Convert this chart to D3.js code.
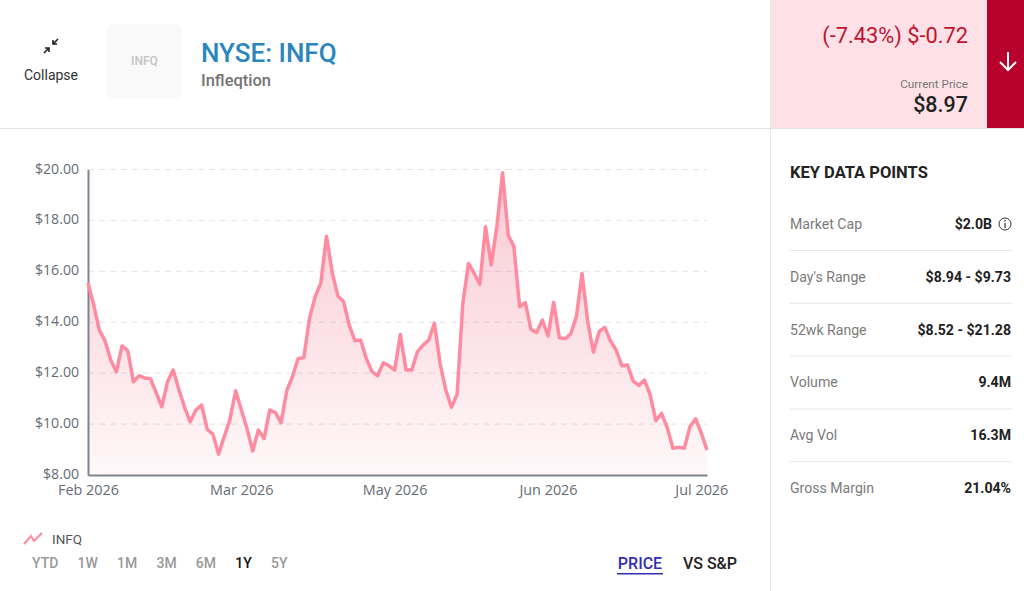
<!DOCTYPE html>
<html>
  <head>
    <meta charset="utf-8">
    <title>NYSE: INFQ</title>
    <script src="https://d3js.org/d3.v7.min.js"></script>
    <style>
      html, body { margin: 0; padding: 0; background: #fff; overflow: hidden; }
      text { font-family: Roboto, sans-serif; }
      .tick text { font-family: "Open Sans", sans-serif; }
    </style>
  </head>
  <body>
    <div id="chart"></div>
  </body>
  <script>
  var prices = [
    15.55, 14.68, 13.69, 13.27, 12.52, 12.06, 13.07, 12.88, 11.66, 11.90,
    11.81, 11.78, 11.23, 10.68, 11.66, 12.12, 11.36, 10.66, 10.09, 10.55,
    10.75, 9.79, 9.60, 8.82, 9.51, 10.19, 11.31, 10.55, 9.83, 8.94,
    9.77, 9.43, 10.55, 10.45, 10.05, 11.31, 11.86, 12.58, 12.61, 14.15,
    15.00, 15.55, 17.38, 15.95, 15.03, 14.81, 13.89, 13.27, 13.30, 12.58,
    12.06, 11.90, 12.41, 12.29, 12.12, 13.52, 12.12, 12.12, 12.84, 13.10,
    13.30, 13.96, 12.38, 11.34, 10.66, 11.17, 14.74, 16.31, 15.92, 15.49,
    17.75, 16.25, 17.75, 19.87, 17.42, 16.97, 14.61, 14.77, 13.72, 13.60,
    14.09, 13.46, 14.78, 13.39, 13.35, 13.54, 14.22, 15.92, 14.02, 12.82,
    13.63, 13.80, 13.27, 12.91, 12.29, 12.32, 11.69, 11.52, 11.73, 11.14,
    10.13, 10.42, 9.86, 9.05, 9.09, 9.05, 9.90, 10.21, 9.64, 8.98
  ];
  var priceTicks = [8, 10, 12, 14, 16, 18, 20];
  var dateTickIndex = [0, 27, 54, 81, 108];
  var dateTickLabels = ["Feb 2026", "Mar 2026", "May 2026", "Jun 2026", "Jul 2026"];
  var rangeButtons = ["YTD", "1W", "1M", "3M", "6M", "1Y", "5Y"];
  var activeRange = "1Y";
  var keyLabels = ["Market Cap", "Day's Range", "52wk Range", "Volume", "Avg Vol", "Gross Margin"];
  var keyValues = ["$2.0B", "$8.94 - $9.73", "$8.52 - $21.28", "9.4M", "16.3M", "21.04%"];

  var svg = d3.select("#chart").append("svg")
      .attr("width", 1024)
      .attr("height", 591)
      .style("display", "block");

  var defs = svg.append("defs");
  var grad = defs.append("linearGradient")
      .attr("id", "areaFill")
      .attr("x1", 0).attr("y1", 0).attr("x2", 0).attr("y2", 1);
  grad.append("stop").attr("offset", "0%").attr("stop-color", "#ee6a85").attr("stop-opacity", 0.36);
  grad.append("stop").attr("offset", "100%").attr("stop-color", "#ee6a85").attr("stop-opacity", 0.05);

  // header
  svg.append("rect").attr("x", 771).attr("y", 0).attr("width", 216).attr("height", 128).attr("fill", "#fee1e6");
  svg.append("rect").attr("x", 987).attr("y", 0).attr("width", 37).attr("height", 128).attr("fill", "#b7012c");
  svg.append("line").attr("x1", 0).attr("x2", 1024).attr("y1", 128.5).attr("y2", 128.5).attr("stroke", "#e2e2e2");
  svg.append("line").attr("x1", 770.5).attr("x2", 770.5).attr("y1", 0).attr("y2", 591).attr("stroke", "#e6e6e6");

  // collapse icon
  svg.append("path")
      .attr("d", "M58 39 L53 44 M53 40 L53 44 L57 44 M44 53 L49 48 M45 48 L49 48 L49 52")
      .attr("fill", "none").attr("stroke", "#222").attr("stroke-width", 1.6);
  svg.append("text").attr("x", 51).attr("y", 80).attr("text-anchor", "middle")
      .attr("font-size", 14).attr("fill", "#333").text("Collapse");

  svg.append("rect").attr("x", 107).attr("y", 24).attr("width", 75).attr("height", 75).attr("rx", 7).attr("fill", "#f9f9f9");
  svg.append("text").attr("x", 144.5).attr("y", 65).attr("text-anchor", "middle")
      .attr("font-size", 12).attr("font-weight", 500).attr("fill", "#c4c4c4").text("INFQ");

  svg.append("text").attr("x", 201).attr("y", 62)
      .attr("font-size", 26).attr("font-weight", 500).attr("fill", "#2a86bd").text("NYSE: INFQ");
  svg.append("text").attr("x", 201).attr("y", 86)
      .attr("font-size", 16.5).attr("font-weight", 500).attr("fill", "#747474").text("Infleqtion");

  svg.append("text").attr("x", 968).attr("y", 43).attr("text-anchor", "end")
      .attr("font-size", 21.8).attr("fill", "#c1122f").text("(-7.43%) $-0.72");
  svg.append("text").attr("x", 968).attr("y", 88).attr("text-anchor", "end")
      .attr("font-size", 11.7).attr("fill", "#777").text("Current Price");
  svg.append("text").attr("x", 968).attr("y", 112).attr("text-anchor", "end")
      .attr("font-size", 21.5).attr("font-weight", 500).attr("fill", "#222").text("$8.97");
  svg.append("path")
      .attr("d", "M1008 52 L1008 70 M1000 62 L1008 70 L1016 62")
      .attr("fill", "none").attr("stroke", "#fff").attr("stroke-width", 2);

  // chart
  var x = d3.scaleLinear().domain([0, prices.length - 1]).range([88, 707]);
  var y = d3.scaleLinear().domain([8, 20]).range([475, 169.5]);

  var yAxis = d3.axisLeft(y)
      .tickValues(priceTicks)
      .tickSize(0)
      .tickPadding(9)
      .tickFormat(d => "$" + d.toFixed(2));
  var xAxis = d3.axisBottom(x)
      .tickValues(dateTickIndex)
      .tickSize(0)
      .tickPadding(10)
      .tickFormat((d, i) => dateTickLabels[i]);

  svg.append("g").selectAll("line")
      .data(priceTicks.slice(1))
      .enter()
      .append("line")
      .attr("x1", 88).attr("x2", 707)
      .attr("y1", d => y(d)).attr("y2", d => y(d))
      .attr("stroke", "#e4e4e4")
      .attr("stroke-dasharray", "6 5");

  var area = d3.area().x((d, i) => x(i)).y0(y(8)).y1(d => y(d));
  var line = d3.line().x((d, i) => x(i)).y(d => y(d));

  svg.append("path").datum(prices).attr("d", area).attr("fill", "url(#areaFill)");

  var gy = svg.append("g").attr("transform", "translate(88,0)").call(yAxis);
  var gx = svg.append("g").attr("transform", "translate(0,475)").call(xAxis);
  gy.select(".domain").attr("stroke", "#7f8490").attr("stroke-width", 2);
  gx.select(".domain").attr("stroke", "#7f8490").attr("stroke-width", 2);
  gy.selectAll("text").attr("font-size", 14.1).attr("fill", "#666c76").attr("y", -1);
  gx.selectAll("text").attr("font-size", 14.4).attr("fill", "#666c76");

  svg.append("path").datum(prices).attr("d", line)
      .attr("fill", "none")
      .attr("stroke", "#ff8ba0")
      .attr("stroke-width", 3.5)
      .attr("stroke-linejoin", "round");

  // legend
  svg.append("path")
      .attr("d", "M24 544 L31 536 L34 541 L42 533")
      .attr("fill", "none").attr("stroke", "#ff8ba0").attr("stroke-width", 2);
  svg.append("text").attr("x", 52).attr("y", 544).attr("font-size", 13.5).attr("fill", "#555").text("INFQ");

  // range buttons, laid out one after the other
  var btnLeft = 32;
  svg.append("g").selectAll("text")
      .data(rangeButtons)
      .enter()
      .append("text")
      .attr("y", 568)
      .attr("font-size", 14)
      .attr("font-weight", 500)
      .attr("fill", d => d === activeRange ? "#111" : "#999")
      .text(d => d)
      .each(function() {
        d3.select(this).attr("x", btnLeft);
        btnLeft += this.getComputedTextLength() + 19.2;
      });

  svg.append("text").attr("x", 640).attr("y", 569).attr("text-anchor", "middle")
      .attr("font-size", 16).attr("font-weight", 500).attr("fill", "#3230b0").text("PRICE");
  svg.append("rect").attr("x", 617).attr("y", 573).attr("width", 46).attr("height", 1.5).attr("fill", "#3230b0");
  svg.append("text").attr("x", 710).attr("y", 569).attr("text-anchor", "middle")
      .attr("font-size", 16).attr("font-weight", 500).attr("fill", "#222").text("VS S&P");

  // key data points
  svg.append("text").attr("x", 790).attr("y", 178)
      .attr("font-size", 16.5).attr("font-weight", 700).attr("fill", "#222").text("KEY DATA POINTS");

  var rowY = d3.scaleLinear().domain([0, 5]).range([229, 493]);
  svg.append("g").selectAll("text")
      .data(keyLabels)
      .enter()
      .append("text")
      .attr("x", 790)
      .attr("y", (d, i) => rowY(i))
      .attr("font-size", 14.1)
      .attr("fill", "#7b7b7b")
      .text(d => d);
  svg.append("g").selectAll("text")
      .data(keyValues)
      .enter()
      .append("text")
      .attr("x", (d, i) => i === 0 ? 992 : 1011)
      .attr("y", (d, i) => rowY(i))
      .attr("text-anchor", "end")
      .attr("font-size", 14.1)
      .attr("font-weight", 700)
      .attr("fill", "#222")
      .text(d => d);
  svg.append("g").selectAll("line")
      .data(keyLabels.slice(1))
      .enter()
      .append("line")
      .attr("x1", 790).attr("x2", 1012)
      .attr("y1", (d, i) => rowY(i) + 21.5).attr("y2", (d, i) => rowY(i) + 21.5)
      .attr("stroke", "#e6e6e6");

  // info icon
  svg.append("circle").attr("cx", 1005).attr("cy", 224).attr("r", 6).attr("fill", "none").attr("stroke", "#333").attr("stroke-width", 1);
  svg.append("path").attr("d", "M1005 223 L1005 228 M1005 220 L1005 221.5").attr("stroke", "#333").attr("stroke-width", 1.2);
  </script>
</html>
